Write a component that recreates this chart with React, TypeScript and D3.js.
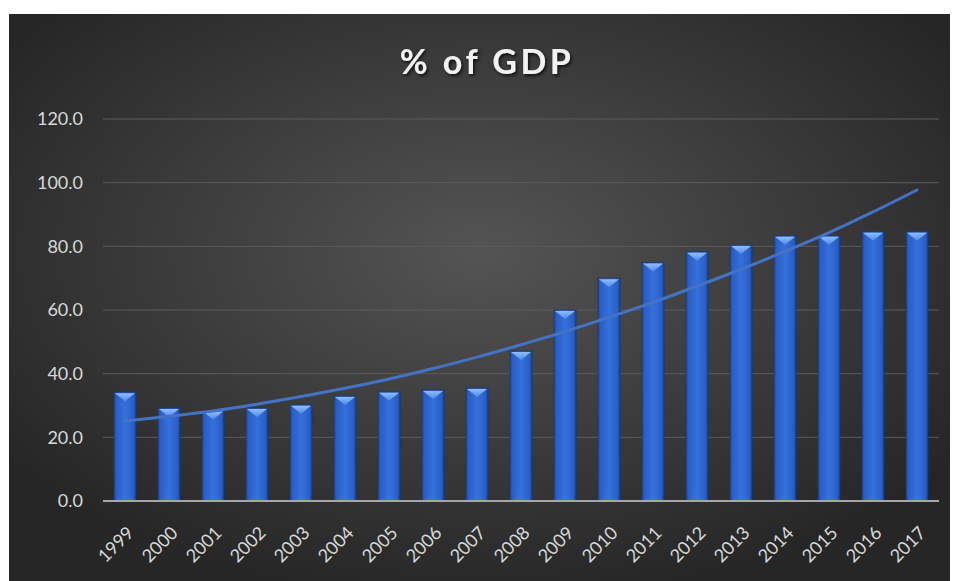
import React from "react";
import * as d3 from "d3";

const years = ["1999","2000","2001","2002","2003","2004","2005","2006","2007","2008","2009","2010","2011","2012","2013","2014","2015","2016","2017"];
const values = [34.2,29.2,28.4,29.2,30.2,33.0,34.3,34.9,35.5,47.1,60.0,70.0,74.9,78.3,80.4,83.3,83.3,84.6,84.6];
const trend = [25.1,26.6,28.3,30.4,32.8,35.4,38.3,41.6,45.2,49.1,53.2,57.7,62.4,67.5,72.8,78.4,84.3,90.8,97.7];
const yTicks = [0,20,40,60,80,100,120];
const title = "% of GDP";

const W = 954, H = 581;
const plot = { left: 103, right: 939, top: 119, bottom: 501 };

export default function App() {
  const x = d3.scaleBand<string>().domain(years).range([plot.left, plot.right]).paddingInner(0.5).paddingOuter(0.25);
  const y = d3.scaleLinear().domain([0, 120]).range([plot.bottom, plot.top]);
  const bw = x.bandwidth();
  const line = d3.line<number>()
    .x((_, i) => (x(years[i]) as number) + bw / 2)
    .y((d) => y(d))
    .curve(d3.curveCatmullRom);
  const font = "Lato, 'Open Sans', sans-serif";
  return (
    <svg width={W} height={H} style={{ position: "absolute", left: 0, top: 0, background: "#fff" }}>
      <defs>
        <radialGradient id="bg" cx="0.5" cy="0.42" r="0.62" fx="0.5" fy="0.42">
          <stop offset="0" stopColor="#545454" />
          <stop offset="1" stopColor="#262626" />
        </radialGradient>
        <linearGradient id="bar" x1="0" x2="1" y1="0" y2="0">
          <stop offset="0" stopColor="#1f4aa0" />
          <stop offset="0.12" stopColor="#2b5fc4" />
          <stop offset="0.5" stopColor="#3470dc" />
          <stop offset="0.88" stopColor="#2b5fc4" />
          <stop offset="1" stopColor="#1c428f" />
        </linearGradient>
        <linearGradient id="cap" x1="0" x2="0" y1="0" y2="1">
          <stop offset="0" stopColor="#8fbcff" />
          <stop offset="1" stopColor="#4f8ae8" />
        </linearGradient>
        <filter id="shadow" x="-10%" y="-10%" width="130%" height="140%">
          <feDropShadow dx="1.5" dy="2" stdDeviation="1.5" floodColor="#000" floodOpacity="0.7" />
        </filter>
      </defs>
      <rect x={9} y={14} width={941} height={H - 14} fill="url(#bg)" />
      <text x={487} y={74} textAnchor="middle" fill="#f2f2f2" fontFamily={font} fontWeight={700}
        fontSize={34} letterSpacing={3.5} filter="url(#shadow)">{title}</text>
      {yTicks.map((t) => (
        <g key={t}>
          {t > 0 && <line x1={plot.left} x2={plot.right} y1={y(t)} y2={y(t)} stroke="#5c5c5c" strokeWidth={1} />}
          <text x={83} y={y(t)} dy="0.35em" textAnchor="end" fill="#d9d9d9" fontFamily={font} fontSize={18}>
            {t.toFixed(1)}
          </text>
        </g>
      ))}
      {years.map((yr, i) => {
        const bx = x(yr) as number;
        const by = y(values[i]);
        const bh = plot.bottom - by;
        const capH = Math.min(9, bh);
        return (
          <g key={yr}>
            <rect x={bx} y={by} width={bw} height={bh} fill="url(#bar)" stroke="#1a3773" strokeWidth={0.8} />
            <polygon points={`${bx + 1},${by + 1} ${bx + bw - 1},${by + 1} ${bx + bw / 2},${by + capH}`} fill="url(#cap)" />
            <polygon points={`${bx + 1},${plot.bottom} ${bx + bw - 1},${plot.bottom} ${bx + bw / 2},${plot.bottom - 8}`} fill="#3a78e0" opacity={0.35} />
          </g>
        );
      })}
      <line x1={plot.left} x2={plot.right} y1={plot.bottom} y2={plot.bottom} stroke="#a6a6a6" strokeWidth={2} />
      <path d={line(trend) ?? ""} fill="none" stroke="#4472c4" strokeWidth={3} strokeLinecap="round" />
      {years.map((yr) => {
        const cx = (x(yr) as number) + bw / 2;
        return (
          <text key={yr} transform={`translate(${cx + 10},${plot.bottom + 33}) rotate(-45)`} textAnchor="end"
            fill="#d9d9d9" fontFamily={font} fontSize={18}>{yr}</text>
        );
      })}
    </svg>
  );
}
